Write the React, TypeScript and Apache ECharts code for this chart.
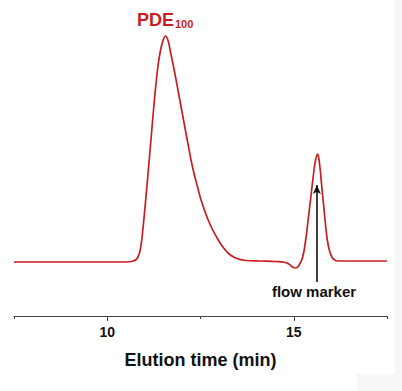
import React, { useEffect, useRef } from "react";
import * as echarts from "echarts";

// Elution time (min) and detector response (arbitrary units, baseline = 0)
const elutionTime = [
  7.5, 10.48, 10.7, 10.81, 10.89, 10.97, 11.05, 11.13, 11.21, 11.29, 11.36, 11.42, 11.49, 11.56,
  11.63, 11.69, 11.8, 11.92, 12.04, 12.16, 12.28, 12.42, 12.55, 12.74, 12.96, 13.12, 13.25, 13.44,
  13.71, 14.11, 14.52, 14.73, 14.87, 14.97, 15.05, 15.13, 15.24, 15.32, 15.38, 15.43, 15.48,
  15.53, 15.58, 15.64, 15.67, 15.71, 15.75, 15.8, 15.85, 15.9, 15.96, 16.03, 16.1, 16.18, 16.8, 17.5,
];
const response = [
  0, 0, 1, 4, 13, 38, 70, 104, 139, 172, 196, 210, 221, 226,
  221.5, 211, 191, 167, 143, 119, 96, 75, 58, 39, 23, 14, 8.5, 4,
  1.5, 1, 0.5, 0, -2, -5, -6, -4, 5, 22, 40, 56, 72,
  88, 101, 108, 104, 92, 76, 57, 38, 22, 11, 4.5, 2, 1, 1, 1,
];

const majorTicks = [10, 15];
const minorTicks = [7.5, 12.5, 17.5];
const arrowX = 15.62;
const arrowFrom = -20;
const arrowTo = 77;

export default function App() {
  const ref = useRef<HTMLDivElement>(null);
  useEffect(() => {
    if (!ref.current) return;
    const chart = echarts.init(ref.current, null, { renderer: "svg" });
    const red = "#c81e22";
    const font = "Liberation Sans, Arial, sans-serif";
    const axisCommon = {
      type: "value" as const,
      min: 7.5,
      max: 17.5,
      interval: 2.5,
      splitLine: { show: false },
    };
    chart.setOption({
      animation: false,
      backgroundColor: "#ffffff",
      grid: { left: 14, right: 15, top: 32, bottom: 75 },
      xAxis: [
        {
          ...axisCommon,
          position: "bottom",
          axisLine: { show: true, onZero: false, lineStyle: { color: "#444", width: 1 } },
          axisTick: {
            show: true,
            inside: false,
            length: 5,
            customValues: majorTicks,
            lineStyle: { color: "#444", width: 1 },
          },
          axisLabel: {
            show: true,
            customValues: majorTicks,
            margin: 9,
            fontSize: 14,
            fontWeight: "bold",
            color: "#111",
            fontFamily: font,
          },
          name: "Elution time (min)",
          nameLocation: "middle",
          nameGap: 35,
          nameTextStyle: {
            fontSize: 18,
            fontWeight: "bold",
            color: "#111",
            fontFamily: font,
          },
        },
        {
          ...axisCommon,
          position: "bottom",
          axisLine: { show: false, onZero: false },
          axisTick: {
            show: true,
            inside: false,
            length: 3,
            customValues: minorTicks,
            lineStyle: { color: "#444", width: 1 },
          },
          axisLabel: { show: false },
        },
      ],
      yAxis: {
        type: "value",
        min: -54,
        max: 230,
        show: false,
      },
      graphic: [
        {
          type: "text",
          left: 137,
          top: 11,
          style: {
            text: "{a|PDE}{b|100}",
            rich: {
              a: {
                fontSize: 18,
                fontWeight: "bold",
                fill: red,
                fontFamily: font,
                verticalAlign: "bottom",
              },
              b: {
                fontSize: 11,
                fontWeight: "bold",
                fill: red,
                fontFamily: font,
                padding: [8, 0, 0, 1],
                verticalAlign: "bottom",
              },
            },
          },
        },
        {
          type: "text",
          x: 314,
          y: 291,
          style: {
            text: "flow marker",
            fontSize: 15,
            fontWeight: "bold",
            fill: "#111",
            align: "center",
            verticalAlign: "middle",
            fontFamily: font,
          },
        },
        { type: "rect", shape: { x: 395, y: 0, width: 7, height: 391 }, style: { fill: "#f7f7f7" }, silent: true },
        { type: "rect", shape: { x: 357, y: 374, width: 45, height: 17 }, style: { fill: "#f7f7f7" }, silent: true },
      ],
      series: [
        {
          type: "line",
          data: elutionTime.map((t, i) => [t, response[i]]),
          smooth: 0.4,
          symbol: "none",
          lineStyle: { color: red, width: 1.7 },
          clip: false,
          markLine: {
            silent: true,
            symbol: ["none", "arrow"],
            symbolSize: [6, 9],
            label: { show: false },
            lineStyle: { color: "#111", width: 1.6, type: "solid" },
            data: [
              [
                { coord: [arrowX, arrowFrom] },
                { coord: [arrowX, arrowTo] },
              ],
            ],
          },
        },
      ],
    });
    return () => chart.dispose();
  }, []);
  return (
    <div
      ref={ref}
      style={{ position: "absolute", left: 0, top: 0, width: 402, height: 391 }}
    />
  );
}
